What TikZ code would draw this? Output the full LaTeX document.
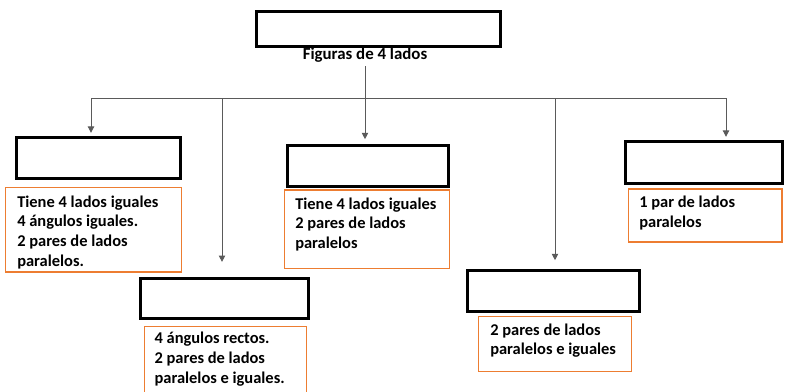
\documentclass[tikz,border=0pt]{standalone}
\usepackage{fontspec}
\setmainfont{Carlito}
\usetikzlibrary{arrows.meta}
\pgfdeclarelayer{edgelayer}
\pgfdeclarelayer{nodelayer}
\pgfsetlayers{edgelayer,nodelayer,main}
\definecolor{boxorange}{RGB}{237,125,49}
\definecolor{linkgray}{RGB}{90,90,90}
\tikzstyle{none}=[inner sep=0pt]
\tikzstyle{block}=[rectangle,draw=black,line width=2pt,fill=white,inner sep=0pt]
\tikzstyle{note}=[rectangle,draw=boxorange,line width=1pt,fill=white,inner sep=0pt]
\tikzstyle{notetext}=[inner sep=0pt,anchor=north west,align=left,font=\fontsize{11.7}{14.2}\selectfont\bfseries]
\tikzstyle{link}=[draw=linkgray,line width=0.7pt]
\tikzstyle{branch}=[-{Triangle[length=4.5pt,width=4.5pt]},draw=linkgray,line width=0.7pt]

\begin{document}
\begin{tikzpicture}
	\clip (0, 0) rectangle (19.75, -9.775);
	\useasboundingbox (0, 0) rectangle (19.75, -9.775);
	\begin{pgfonlayer}{nodelayer}
		\node [style=block, minimum width=6.1cm, minimum height=0.88cm] (0) at (9.4625, -0.725) {};
		\node [style=none, anchor=base, inner sep=2.5pt, font=\fontsize{12}{14}\selectfont\bfseries] (1) at (9.125, -1.4875) {Figuras de 4 lados};
		\node [style=block, minimum width=4.1cm, minimum height=1.03cm] (2) at (2.4625, -3.95) {};
		\node [style=block, minimum width=4.2cm, minimum height=1.01cm] (3) at (5.6125, -7.4575) {};
		\node [style=block, minimum width=4.03cm, minimum height=1.03cm] (4) at (9.2, -4.15) {};
		\node [style=block, minimum width=4.3cm, minimum height=1.02cm] (5) at (13.83, -7.27) {};
		\node [style=block, minimum width=3.93cm, minimum height=1.05cm] (6) at (17.6, -4.06) {};
		\node [style=note, minimum width=4.39cm, minimum height=2.115cm] (7) at (2.3375, -5.7375) {};
		\node [style=note, minimum width=4.04cm, minimum height=1.965cm] (8) at (5.6375, -9.1425) {};
		\node [style=note, minimum width=4.115cm, minimum height=1.955cm] (9) at (9.175, -5.73) {};
		\node [style=note, minimum width=3.815cm, minimum height=1.375cm] (10) at (13.875, -8.596) {};
		\node [style=note, minimum width=3.835cm, minimum height=1.325cm] (11) at (17.634, -5.3875) {};
		\node [style=notetext] (12) at (0.425, -4.88) {Tiene 4 lados iguales\\4 ángulos iguales.\\2 pares de lados\\paralelos.};
		\node [style=notetext] (13) at (3.8575, -8.3) {4 ángulos rectos.\\2 pares de lados\\paralelos e iguales.};
		\node [style=notetext] (14) at (7.375, -4.93) {Tiene 4 lados iguales\\2 pares de lados\\paralelos};
		\node [style=notetext] (15) at (12.25, -8.08) {2 pares de lados\\paralelos e iguales};
		\node [style=notetext] (16) at (15.975, -4.885) {1 par de lados\\paralelos};
		\coordinate (20) at (2.275, -2.45);
		\coordinate (21) at (5.55, -2.45);
		\coordinate (22) at (13.875, -2.45);
		\coordinate (23) at (18.15, -2.45);
	\end{pgfonlayer}
	\begin{pgfonlayer}{edgelayer}
		\draw [style=link] (20) to (23);
		\draw [style=branch] (1.south) to ([yshift=0.12cm]1.south |- 4.north);
		\draw [style=branch] (20) to ([yshift=0.08cm]20 |- 2.north);
		\draw [style=branch] (21) to ([yshift=0.37cm]21 |- 3.north);
		\draw [style=branch] (22) to ([yshift=0.22cm]22 |- 5.north);
		\draw [style=branch] (23) to ([yshift=0.08cm]23 |- 6.north);
	\end{pgfonlayer}
\end{tikzpicture}
\end{document}
